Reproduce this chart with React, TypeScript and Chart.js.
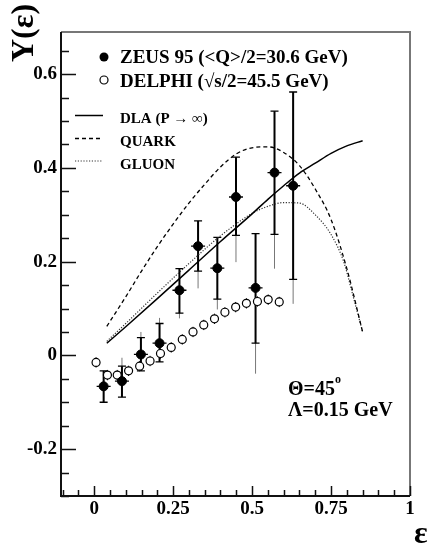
import { useEffect, useRef } from "react";
import { Chart, registerables } from "chart.js";

Chart.register(...registerables);

// ZEUS 95 measurements (filled circles)
const zeusX = [0.03, 0.088, 0.148, 0.207, 0.27, 0.329, 0.39, 0.449, 0.511, 0.571, 0.63];
const zeusY = [-0.066, -0.055, 0.002, 0.026, 0.139, 0.233, 0.186, 0.338, 0.144, 0.39, 0.362];
const zeusStatHi = [-0.033, -0.023, 0.038, 0.068, 0.185, 0.287, 0.252, 0.423, 0.26, 0.521, 0.562];
const zeusStatLo = [-0.1, -0.089, -0.033, -0.014, 0.09, 0.18, 0.12, 0.256, 0.026, 0.258, 0.162];
const zeusTotHi = [-0.033, -0.005, 0.05, 0.08, 0.185, 0.287, 0.252, 0.423, 0.26, 0.521, 0.562];
const zeusTotLo = [-0.1, -0.089, -0.033, -0.014, 0.079, 0.143, 0.098, 0.199, -0.039, 0.185, 0.11];

// DELPHI measurements (open circles)
const delphiX = [0.006, 0.042, 0.073, 0.109, 0.144, 0.177, 0.21, 0.244, 0.279, 0.313, 0.347, 0.381, 0.414, 0.448, 0.482, 0.517, 0.551, 0.586];
const delphiY = [-0.015, -0.042, -0.042, -0.033, -0.023, -0.012, 0.004, 0.017, 0.034, 0.05, 0.065, 0.078, 0.092, 0.103, 0.111, 0.115, 0.119, 0.114];
const delphiErr = 0.011;

// Theory curves
const dlaX = [0.04, 0.1, 0.2, 0.3, 0.4, 0.5, 0.55, 0.6, 0.65, 0.7, 0.75, 0.8, 0.85];
const dlaY = [0.026, 0.061, 0.121, 0.182, 0.243, 0.302, 0.333, 0.362, 0.389, 0.41, 0.431, 0.447, 0.458];
const quarkX = [0.04, 0.1, 0.15, 0.2, 0.25, 0.3, 0.35, 0.4, 0.45, 0.5, 0.55, 0.6, 0.65, 0.7, 0.75, 0.8, 0.85];
const quarkY = [0.062, 0.125, 0.18, 0.232, 0.28, 0.325, 0.365, 0.402, 0.43, 0.443, 0.445, 0.433, 0.405, 0.355, 0.29, 0.185, 0.05];
const gluonX = [0.04, 0.1, 0.2, 0.3, 0.4, 0.5, 0.55, 0.6, 0.65, 0.7, 0.75, 0.79, 0.82, 0.85];
const gluonY = [0.03, 0.068, 0.133, 0.196, 0.255, 0.303, 0.318, 0.326, 0.325, 0.3, 0.258, 0.2, 0.126, 0.05];

// Axes
const xMin = -0.105;
const xMax = 1.0;
const yMin = -0.3;
const yMax = 0.69;
const xTicks = [0, 0.25, 0.5, 0.75, 1];
const xTickLabels = ["0", "0.25", "0.5", "0.75", "1"];
const yTicks = [-0.2, 0, 0.2, 0.4, 0.6];
const yTickLabels = ["-0.2", "0", "0.2", "0.4", "0.6"];
const minorStep = 0.05;

// Texts
const yTitle = "Y(ε)";
const xTitle = "ε";
const legendData = ["ZEUS 95 (<Q>/2=30.6 GeV)", "DELPHI (√s/2=45.5 GeV)"];
const legendModels = ["DLA (P → ∞)", "QUARK", "GLUON"];
const annot1 = "Θ=45";
const annot1Sup = "o";
const annot2 = "Λ=0.15 GeV";

const SERIF = "'Liberation Serif', 'DejaVu Serif', serif";

const toPts = (xs: number[], ys: number[]) => xs.map((x, i) => ({ x, y: ys[i] }));

const decor = {
  id: "decor",
  beforeDatasetsDraw(chart: any) {
    const { ctx } = chart;
    const xs = chart.scales.x;
    const ys = chart.scales.y;
    ctx.save();
    // ZEUS error bars
    for (let i = 0; i < zeusX.length; i++) {
      const px = xs.getPixelForValue(zeusX[i]);
      ctx.strokeStyle = "#777";
      ctx.lineWidth = 1;
      ctx.beginPath();
      ctx.moveTo(px, ys.getPixelForValue(zeusTotLo[i]));
      ctx.lineTo(px, ys.getPixelForValue(zeusTotHi[i]));
      ctx.stroke();
      ctx.strokeStyle = "#000";
      ctx.lineWidth = 2;
      const yl = ys.getPixelForValue(zeusStatLo[i]);
      const yh = ys.getPixelForValue(zeusStatHi[i]);
      ctx.beginPath();
      ctx.moveTo(px, yl);
      ctx.lineTo(px, yh);
      ctx.stroke();
      ctx.lineWidth = 1.3;
      ctx.beginPath();
      ctx.moveTo(px - 4, yl);
      ctx.lineTo(px + 4, yl);
      ctx.moveTo(px - 4, yh);
      ctx.lineTo(px + 4, yh);
      const yc = ys.getPixelForValue(zeusY[i]);
      ctx.moveTo(px - 7, yc);
      ctx.lineTo(px + 7, yc);
      ctx.stroke();
    }
    // DELPHI tiny error bars
    ctx.strokeStyle = "#000";
    ctx.lineWidth = 1;
    for (let i = 0; i < delphiX.length; i++) {
      const px = xs.getPixelForValue(delphiX[i]);
      ctx.beginPath();
      ctx.moveTo(px, ys.getPixelForValue(delphiY[i] - delphiErr));
      ctx.lineTo(px, ys.getPixelForValue(delphiY[i] + delphiErr));
      ctx.stroke();
    }
    ctx.restore();
  },
  afterDraw(chart: any) {
    const { ctx, chartArea: ca } = chart;
    const xs = chart.scales.x;
    const ys = chart.scales.y;
    ctx.save();
    // frame
    ctx.lineWidth = 2;
    ctx.strokeStyle = "#777";
    ctx.beginPath();
    ctx.moveTo(ca.left, ca.top);
    ctx.lineTo(ca.right, ca.top);
    ctx.lineTo(ca.right, ca.bottom);
    ctx.stroke();
    ctx.strokeStyle = "#111";
    ctx.beginPath();
    ctx.moveTo(ca.left, ca.top);
    ctx.lineTo(ca.left, ca.bottom);
    ctx.lineTo(ca.right, ca.bottom);
    ctx.stroke();
    // y ticks
    ctx.lineWidth = 1.5;
    ctx.beginPath();
    for (let k = Math.ceil(yMin / minorStep - 1e-6); k * minorStep <= yMax + 1e-9; k++) {
      const v = k * minorStep;
      const major = yTicks.some((t) => Math.abs(t - v) < 1e-6);
      const py = Math.round(ys.getPixelForValue(v)) + 0.5;
      ctx.moveTo(ca.left, py);
      ctx.lineTo(ca.left + (major ? 15 : 8), py);
    }
    // x ticks
    for (let k = Math.ceil(xMin / minorStep - 1e-6); k * minorStep <= xMax + 1e-9; k++) {
      const v = k * minorStep;
      const major = xTicks.some((t) => Math.abs(t - v) < 1e-6);
      const px = Math.round(xs.getPixelForValue(v)) + 0.5;
      ctx.moveTo(px, ca.bottom);
      ctx.lineTo(px, ca.bottom - (major ? 10 : 6));
    }
    ctx.stroke();

    // axis titles
    ctx.fillStyle = "#000";
    ctx.font = `bold 32px ${SERIF}`;
    ctx.save();
    ctx.translate(25, 33);
    ctx.rotate(-Math.PI / 2);
    ctx.textAlign = "center";
    ctx.textBaseline = "middle";
    ctx.fillText(yTitle, 0, 0);
    ctx.restore();
    ctx.textAlign = "left";
    ctx.textBaseline = "alphabetic";
    ctx.font = `bold 32px ${SERIF}`;
    ctx.fillText(xTitle, 414, 543);

    // legend (data)
    ctx.font = `bold 19px ${SERIF}`;
    ctx.fillStyle = "#000";
    ctx.beginPath();
    ctx.arc(104, 57, 4.5, 0, Math.PI * 2);
    ctx.fill();
    ctx.beginPath();
    ctx.arc(104, 80, 4, 0, Math.PI * 2);
    ctx.fillStyle = "#fff";
    ctx.fill();
    ctx.lineWidth = 1.2;
    ctx.strokeStyle = "#000";
    ctx.stroke();
    ctx.fillStyle = "#000";
    ctx.fillText(legendData[0], 120, 63);
    ctx.fillText(legendData[1], 120, 87);

    // legend (models)
    const ly = [115.5, 138.5, 161];
    const dashes = [[], [4, 3], [1.2, 1.6]];
    const lw = [1.5, 1.3, 1.2];
    const lc = ["#000", "#000", "#333"];
    for (let i = 0; i < 3; i++) {
      ctx.setLineDash(dashes[i]);
      ctx.lineWidth = lw[i];
      ctx.strokeStyle = lc[i];
      ctx.beginPath();
      ctx.moveTo(75, ly[i]);
      ctx.lineTo(103, ly[i]);
      ctx.stroke();
    }
    ctx.setLineDash([]);
    ctx.font = `bold 15px ${SERIF}`;
    ctx.fillText(legendModels[0], 120, 122.5);
    ctx.fillText(legendModels[1], 120, 146);
    ctx.fillText(legendModels[2], 120, 169);

    // annotations
    ctx.font = `bold 20px ${SERIF}`;
    ctx.fillText(annot1, 288, 395);
    const w = ctx.measureText(annot1).width;
    ctx.font = `bold 12px ${SERIF}`;
    ctx.fillText(annot1Sup, 288 + w, 383);
    ctx.font = `bold 20px ${SERIF}`;
    ctx.fillText(annot2, 288, 416);
    ctx.restore();
  },
};

export default function App() {
  const ref = useRef<HTMLCanvasElement>(null);
  useEffect(() => {
    document.body.style.margin = "0";
    const tickFont = { family: SERIF, size: 19, weight: "bold" as const };
    const chart = new Chart(ref.current as HTMLCanvasElement, {
      type: "scatter",
      data: {
        datasets: [
          {
            label: "ZEUS",
            data: toPts(zeusX, zeusY),
            pointRadius: 4.5,
            pointBackgroundColor: "#000",
            pointBorderColor: "#000",
            showLine: false,
          },
          {
            label: "DELPHI",
            data: toPts(delphiX, delphiY),
            pointRadius: 4,
            pointBackgroundColor: "#fff",
            pointBorderColor: "#000",
            pointBorderWidth: 1.2,
            showLine: false,
          },
          {
            label: "DLA",
            data: toPts(dlaX, dlaY),
            showLine: true,
            pointRadius: 0,
            borderColor: "#000",
            borderWidth: 1.5,
            cubicInterpolationMode: "monotone",
          },
          {
            label: "QUARK",
            data: toPts(quarkX, quarkY),
            showLine: true,
            pointRadius: 0,
            borderColor: "#000",
            borderWidth: 1.3,
            borderDash: [4, 3],
            cubicInterpolationMode: "monotone",
          },
          {
            label: "GLUON",
            data: toPts(gluonX, gluonY),
            showLine: true,
            pointRadius: 0,
            borderColor: "#333",
            borderWidth: 1.2,
            borderDash: [1.2, 1.6],
            cubicInterpolationMode: "monotone",
          },
        ],
      },
      options: {
        responsive: false,
        maintainAspectRatio: false,
        animation: false,
        events: [],
        layout: { padding: { top: 32, right: 22, left: 0, bottom: 0 } },
        plugins: { legend: { display: false }, tooltip: { enabled: false } },
        scales: {
          x: {
            type: "linear",
            position: "bottom",
            min: xMin,
            max: xMax,
            grid: { display: false, drawTicks: false },
            border: { display: false },
            afterBuildTicks: (s: any) => {
              s.ticks = xTicks.map((v) => ({ value: v }));
            },
            afterFit: (s: any) => {
              s.height = 50;
            },
            ticks: {
              font: tickFont,
              color: "#000",
              padding: 2,
              autoSkip: false,
              maxRotation: 0,
              callback: (_v: any, i: number) => xTickLabels[i],
            },
          },
          y: {
            type: "linear",
            min: yMin,
            max: yMax,
            grid: { display: false, drawTicks: false },
            border: { display: false },
            afterBuildTicks: (s: any) => {
              s.ticks = yTicks.map((v) => ({ value: v }));
            },
            afterFit: (s: any) => {
              s.width = 61;
            },
            ticks: {
              font: tickFont,
              color: "#000",
              padding: 4,
              autoSkip: false,
              callback: (_v: any, i: number) => yTickLabels[i],
            },
          },
        },
      },
      plugins: [decor],
    });
    return () => chart.destroy();
  }, []);
  return (
    <div style={{ width: 432, height: 546 }}>
      <canvas ref={ref} width={432} height={546} style={{ display: "block" }} />
    </div>
  );
}
